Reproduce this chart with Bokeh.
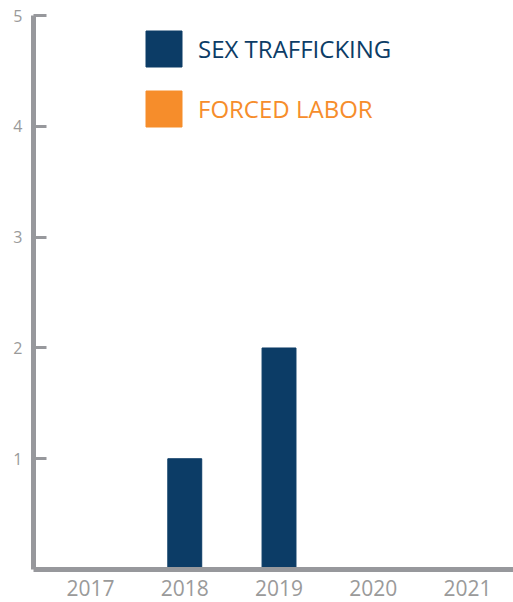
from bokeh.plotting import figure
from bokeh.models import ColumnDataSource, FixedTicker, Legend, LegendItem
from bokeh.embed import file_html
from bokeh.resources import INLINE

years = [2017, 2018, 2019, 2020, 2021]
sex_trafficking = [0, 1, 2, 0, 0]
forced_labor = [0, 0, 0, 0, 0]
y_ticks = [1, 2, 3, 4, 5]

NAVY = "#0c3c66"
ORANGE = "#f68d2b"
GREY = "#97989c"
LABEL = "#9a9a9a"
FONT = "Open Sans"

src = ColumnDataSource(dict(year=years, st=sex_trafficking, fl=forced_labor))

p = figure(width=513, height=602, output_backend="svg", toolbar_location=None,
           x_range=(2016.395, 2021.488), y_range=(0, 5.002),
           min_border_left=33, min_border_right=0, min_border_top=15, min_border_bottom=33)

r_st = p.vbar(x="year", top="st", width=0.36, source=src, color=NAVY)
r_fl = p.vbar(x="year", top="fl", width=0.36, source=src, color=ORANGE)

p.xgrid.visible = False
p.ygrid.visible = False
p.outline_line_color = None

for ax in (p.xaxis[0], p.yaxis[0]):
    ax.axis_line_color = GREY
    ax.axis_line_width = 5
    ax.minor_tick_line_color = None
    ax.major_label_text_font = FONT
    ax.major_label_text_color = LABEL

p.xaxis.ticker = FixedTicker(ticks=years)
p.xaxis.major_tick_line_color = None
p.xaxis.major_tick_in = 0
p.xaxis.major_tick_out = 0
p.xaxis.major_label_text_font_size = "21px"
p.xaxis.major_label_standoff = 10

p.yaxis.ticker = FixedTicker(ticks=y_ticks)
p.yaxis.major_tick_line_color = GREY
p.yaxis.major_tick_line_width = 3
p.yaxis.major_tick_in = 13
p.yaxis.major_tick_out = 0
p.yaxis.major_label_text_font_size = "16px"
p.yaxis.major_label_standoff = 11


def make_legend(label, renderer, color, loc):
    lg = Legend(items=[LegendItem(label=label, renderers=[renderer])], location=loc)
    lg.glyph_width = 45
    lg.glyph_height = 45
    lg.padding = 0
    lg.margin = 0
    lg.label_standoff = 12
    lg.label_text_font = FONT
    lg.label_text_font_size = "24px"
    lg.label_text_color = color
    lg.label_height = 45
    lg.border_line_color = None
    lg.background_fill_alpha = 0
    return lg


p.add_layout(make_legend("SEX TRAFFICKING", r_st, NAVY, (108, 498)), "center")
p.add_layout(make_legend("FORCED LABOR", r_fl, ORANGE, (108, 438)), "center")

open("out.html", "w").write(file_html(p, INLINE))
